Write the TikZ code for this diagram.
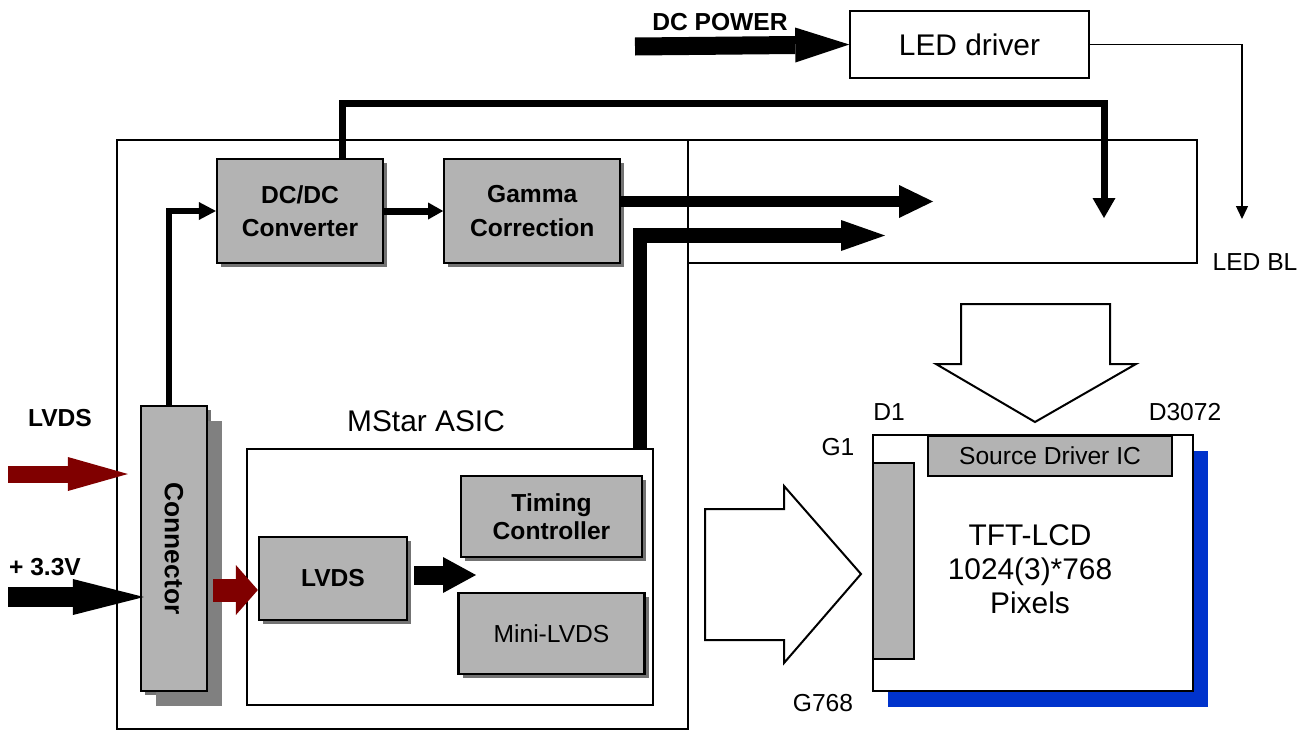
\documentclass[tikz,border=0pt]{standalone}
\usepackage{fontspec}
\setmainfont{Liberation Sans}
\usetikzlibrary{arrows.meta,positioning,shadows,calc}
\definecolor{boxgray}{RGB}{179,179,179}
\definecolor{shadegray}{RGB}{128,128,128}
\definecolor{darkred}{RGB}{128,0,0}
\definecolor{panelblue}{RGB}{0,51,204}
\begin{document}
\begin{tikzpicture}[
    x=0.2mm, y=-0.2mm,
    every node/.style={font=\fontsize{14}{17}\selectfont},
    frame/.style={draw, line width=0.3mm, inner sep=0pt},
    chip/.style={draw, line width=0.45mm, fill=boxgray, align=center, inner sep=0pt,
        font=\fontsize{14}{19}\selectfont\bfseries,
        drop shadow={shadow xshift=0.8mm, shadow yshift=-0.8mm, fill=black!55, opacity=1}},
    strip/.style={draw, line width=0.4mm, fill=boxgray, inner sep=0pt},
    tag/.style={font=\fontsize{14}{17}\selectfont\bfseries},
    fat/.style n args={3}{line width=#1, -{Triangle[length=#2, width=#3, line width=0pt]}},
    hollow/.style={draw, line width=0.4mm, fill=white, line join=miter}
]
\useasboundingbox (0,0) rectangle (1309,731);

\node[frame, minimum width=114.2mm, minimum height=117.8mm] (board) at (402.5,434.5) {};
\node[frame, minimum width=101.8mm, minimum height=24.6mm] (panel) at (942.5,201.5) {};

\node[chip, minimum width=33.2mm, minimum height=20.8mm] (dcdc) at (300,211) {DC/DC\\Converter};
\node[chip, minimum width=35.2mm, minimum height=20.8mm, right=11.8mm of dcdc] (gamma) {Gamma\\Correction};
\node[chip, minimum width=13.2mm, minimum height=57mm, font=\fontsize{15}{18}\selectfont\bfseries,
    drop shadow={shadow xshift=3mm, shadow yshift=-3mm, fill=shadegray, opacity=1}] (conn) at (174,548.5) {\rotatebox{-90}{Connector}};

\node[frame, line width=0.35mm, minimum width=81.2mm, minimum height=51.2mm] (asic) at (450,577) {};
\node[font=\fontsize{17}{20}\selectfont] (asicname) at (426,421) {MStar ASIC};
\node[chip, minimum width=29.6mm, minimum height=16.6mm] (lvds) at (333,578.5) {LVDS};
\node[chip, minimum width=36.2mm, minimum height=16.2mm, font=\fontsize{14}{16}\selectfont\bfseries] (tcon) at (551.5,516.5) {Timing\\Controller};
\node[chip, minimum width=37.2mm, minimum height=16.2mm, font=\fontsize{14}{17}\selectfont, below=6.8mm of tcon] (mini) {Mini-LVDS};

\node[frame, minimum width=47.8mm, minimum height=13.4mm, font=\fontsize{17}{20}\selectfont] (driver) at (969.5,44.5) {LED driver};

\node[frame, line width=0.45mm, fill=white, minimum width=64mm, minimum height=51.2mm,
    drop shadow={shadow xshift=3mm, shadow yshift=-3.2mm, fill=panelblue, opacity=1}] (lcd) at (1033,563) {};
\node[strip, minimum width=48.8mm, minimum height=8mm] (source) at (1050,456) {Source Driver IC};
\node[strip, minimum width=8.2mm, minimum height=39.2mm] (gate) at (893.5,561) {};
\node[align=center, font=\fontsize{17}{19.3}\selectfont] (lcdname) at (1030,569) {TFT-LCD\\1024(3)*768\\Pixels};

\node (d1) at (889,412) {D1};
\node (dlast) at (1185,412) {D3072};
\node (g1) at (838,447) {G1};
\node (glast) at (823,703) {G768};
\node (ledbl) at (1255,262) {LED BL};
\node[tag] (dcpower) at (720,22) {DC POWER};
\node[tag] (lvdsname) at (60,418) {LVDS};
\node[tag] (supply) at (45,567) {+ 3.3V};

\coordinate (dcin) at (635,46.5);
\coordinate (blin) at (1242,219);
\coordinate (pwrtop) at (1104,103.5);
\coordinate (pwrend) at (1104,218);
\coordinate (gout) at (933,201.5);
\coordinate (tup) at (640,449);
\coordinate (tout) at (885,235.5);
\coordinate (lvdsin) at (8,474);
\coordinate (vin) at (8,597);
\coordinate (redin) at (213,590);
\coordinate (lvdsout) at (476,575);

\draw[fat={3.6mm}{10.8mm}{7mm}] (dcin) -- (driver.west);
\draw[line width=0.28mm, -{Triangle[length=2.6mm, width=2.4mm]}] (driver.east) -| (blin);
\draw[fat={1.4mm}{4mm}{4.6mm}] ([xshift=8.4mm]dcdc.north) |- (pwrtop) -- (pwrend);
\draw[fat={1.2mm}{3.4mm}{3.6mm}] ([xshift=-1mm]conn.north) |- (dcdc.west);
\draw[fat={1.4mm}{3mm}{3.4mm}] (dcdc) -- (gamma);
\draw[fat={2.2mm}{6.8mm}{6.6mm}] (gamma.east |- gout) -- (gout);
\draw[fat={2.9mm}{8.8mm}{6.2mm}] (tup) |- (tout);
\draw[darkred, fat={3.4mm}{12mm}{6.8mm}] (lvdsin) -- ($(conn.west |- lvdsin)+(-12,0)$);
\draw[fat={4mm}{14.2mm}{7.2mm}] (vin) -- ($(conn.west |- vin)+(4,0)$);
\draw[darkred, fat={4.6mm}{4.4mm}{10mm}] (redin) -- (lvds.west |- redin);
\draw[fat={3.8mm}{6.6mm}{7.2mm}] ($(lvds.east |- lvdsout)+(6,0)$) -- (lvdsout);

\draw[hollow] (705,509) -- (784,509) -- (784,486) -- (861,574) -- (784,663) -- (784,640) -- (705,640) -- cycle;
\draw[hollow] (961,304) -- (1110,304) -- (1110,364) -- (1136,364) -- (1035,422) -- (936,364) -- (961,364) -- cycle;
\end{tikzpicture}
\end{document}
